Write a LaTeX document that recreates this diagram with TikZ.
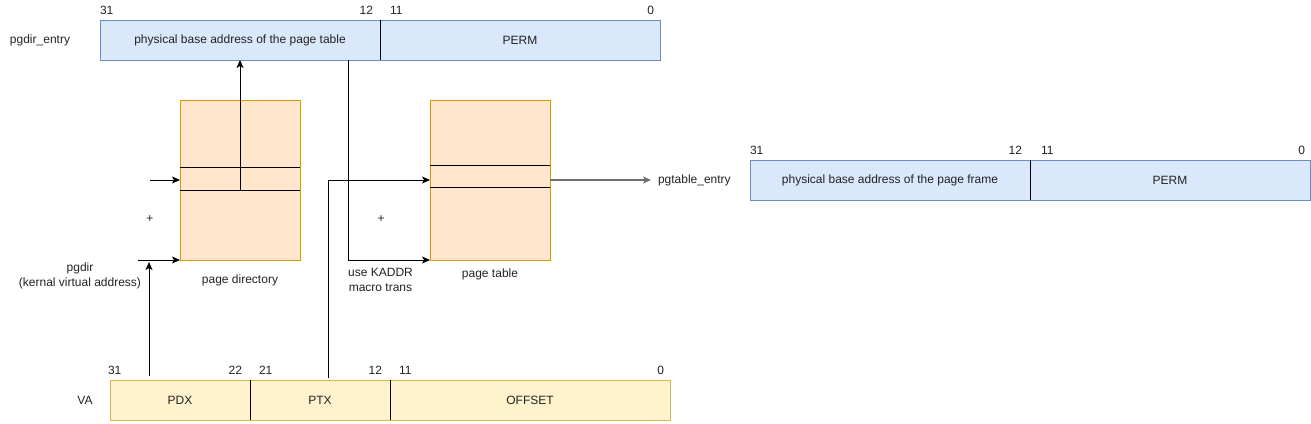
\documentclass[tikz,border=0pt]{standalone}
\usepackage{fontspec}
\setmainfont{Liberation Sans}
\usetikzlibrary{arrows.meta}
\definecolor{bluefill}{HTML}{DAE8FC}
\definecolor{blueline}{HTML}{6C8EBF}
\definecolor{orfill}{HTML}{FFE6CC}
\definecolor{orline}{HTML}{D79B00}
\definecolor{yfill}{HTML}{FFF2CC}
\definecolor{yline}{HTML}{D6B656}
\definecolor{txt}{HTML}{222222}
\definecolor{garrow}{HTML}{707070}
\begin{document}
\begin{tikzpicture}[x=1pt,y=-1pt,
  every node/.style={font=\fontsize{12}{15}\selectfont, text=txt, inner sep=0pt, outer sep=0pt},
  bfield/.style={draw=blueline, fill=bluefill, anchor=north west, minimum height=40, line width=1pt},
  yfield/.style={draw=yline, fill=yfill, anchor=north west, minimum height=40, line width=1pt},
  table/.style={draw=orline, fill=orfill, anchor=north west, minimum width=120, minimum height=160, line width=1pt},
  row/.style={anchor=north west, minimum width=120},
  divider/.style={draw=black, line width=1pt},
  arr/.style={draw=black, line width=1pt, -{Stealth[length=8pt,width=7pt,inset=2pt]}},
  garr/.style={draw=garrow, line width=1.5pt, -{Stealth[length=8pt,width=7pt,inset=2pt]}},
  plain/.style={draw=black, line width=1pt}
]
\useasboundingbox (0,0) rectangle (1311,423);

% pgdir_entry
\node[bfield, minimum width=280] (phys1) at (100,20) {physical base address of the page table};
\node[bfield, minimum width=280] (perm1) at (380,20) {PERM};
\draw[divider] (phys1.north east) -- (phys1.south east);
\node (pgdirentry) at (40,40) {pgdir\_entry};
\node[anchor=west] (b1a) at (100,10) {31};
\node[anchor=east] (b1b) at (373,10) {12};
\node[anchor=west] (b1c) at (390,10) {11};
\node[anchor=east] (b1d) at (654,10) {0};

% pgtable_entry
\node[bfield, minimum width=280] (phys2) at (750,160) {physical base address of the page frame};
\node[bfield, minimum width=280] (perm2) at (1030,160) {PERM};
\draw[divider] (phys2.north east) -- (phys2.south east);
\node[anchor=west, inner xsep=7pt] (pgte) at (651,180) {pgtable\_entry};
\node[anchor=west] (b2a) at (750,150) {31};
\node[anchor=east] (b2b) at (1022,150) {12};
\node[anchor=west] (b2c) at (1041,150) {11};
\node[anchor=east] (b2d) at (1305,150) {0};

% VA
\node[yfield, minimum width=140] (pdx) at (110,380) {PDX};
\node[yfield, minimum width=140] (ptx) at (250,380) {PTX};
\node[yfield, minimum width=280] (off) at (390,380) {OFFSET};
\draw[divider] (pdx.north east) -- (pdx.south east);
\draw[divider] (ptx.north east) -- (ptx.south east);
\node (va) at (85,400) {VA};
\node[anchor=west] (b3a) at (108,370) {31};
\node[anchor=east] (b3b) at (242,370) {22};
\node[anchor=west] (b3c) at (259,370) {21};
\node[anchor=east] (b3d) at (382,370) {12};
\node[anchor=west] (b3e) at (399,370) {11};
\node[anchor=east] (b3f) at (664,370) {0};

% page directory
\node[table] (pd) at (180,100) {};
\node[row, minimum height=23] (pde) at (180,167) {};
\draw[plain] (pde.north west) -- (pde.north east);
\draw[plain] (pde.south west) -- (pde.south east);
\node (pdlbl) at (240,280) {page directory};

% page table
\node[table] (pt) at (430,100) {};
\node[row, minimum height=22] (pte) at (430,165) {};
\draw[plain] (pte.north west) -- (pte.north east);
\draw[plain] (pte.south west) -- (pte.south east);
\node (ptlbl) at (490,274) {page table};

% labels
\node[align=center] (pgdirlbl) at (80,275.5) {pgdir\\(kernal virtual address)};
\node[align=center] (kaddr) at (380.5,280) {use KADDR\\macro trans};
\node (plus1) at (150,219) {+};
\node (plus2) at (381,219) {+};

% connectors
\draw[arr] (pde.south) -- (phys1.south);
\coordinate (pdin) at (150,180);
\draw[arr] (pdin) -- (pdin -| pd.west);
\coordinate (pgdirin) at (138,260);
\draw[arr] (pgdirin) -- (pd.south west);
\coordinate (pdxtap) at (149,262);
\draw[arr] ([yshift=4pt]pdx.north -| pdxtap) -- (pdxtap);
\coordinate (ptxtap) at (328,180);
\draw[arr] ([yshift=2pt]ptx.north -| ptxtap) -- (ptxtap) -- (ptxtap -| pt.west);
\coordinate (kx) at (348,0);
\draw[arr] (phys1.south -| kx) -- (kx |- pt.south) -- (pt.south west);
\draw[garr] (pt.east) -- (pgte.west);
\end{tikzpicture}
\end{document}
